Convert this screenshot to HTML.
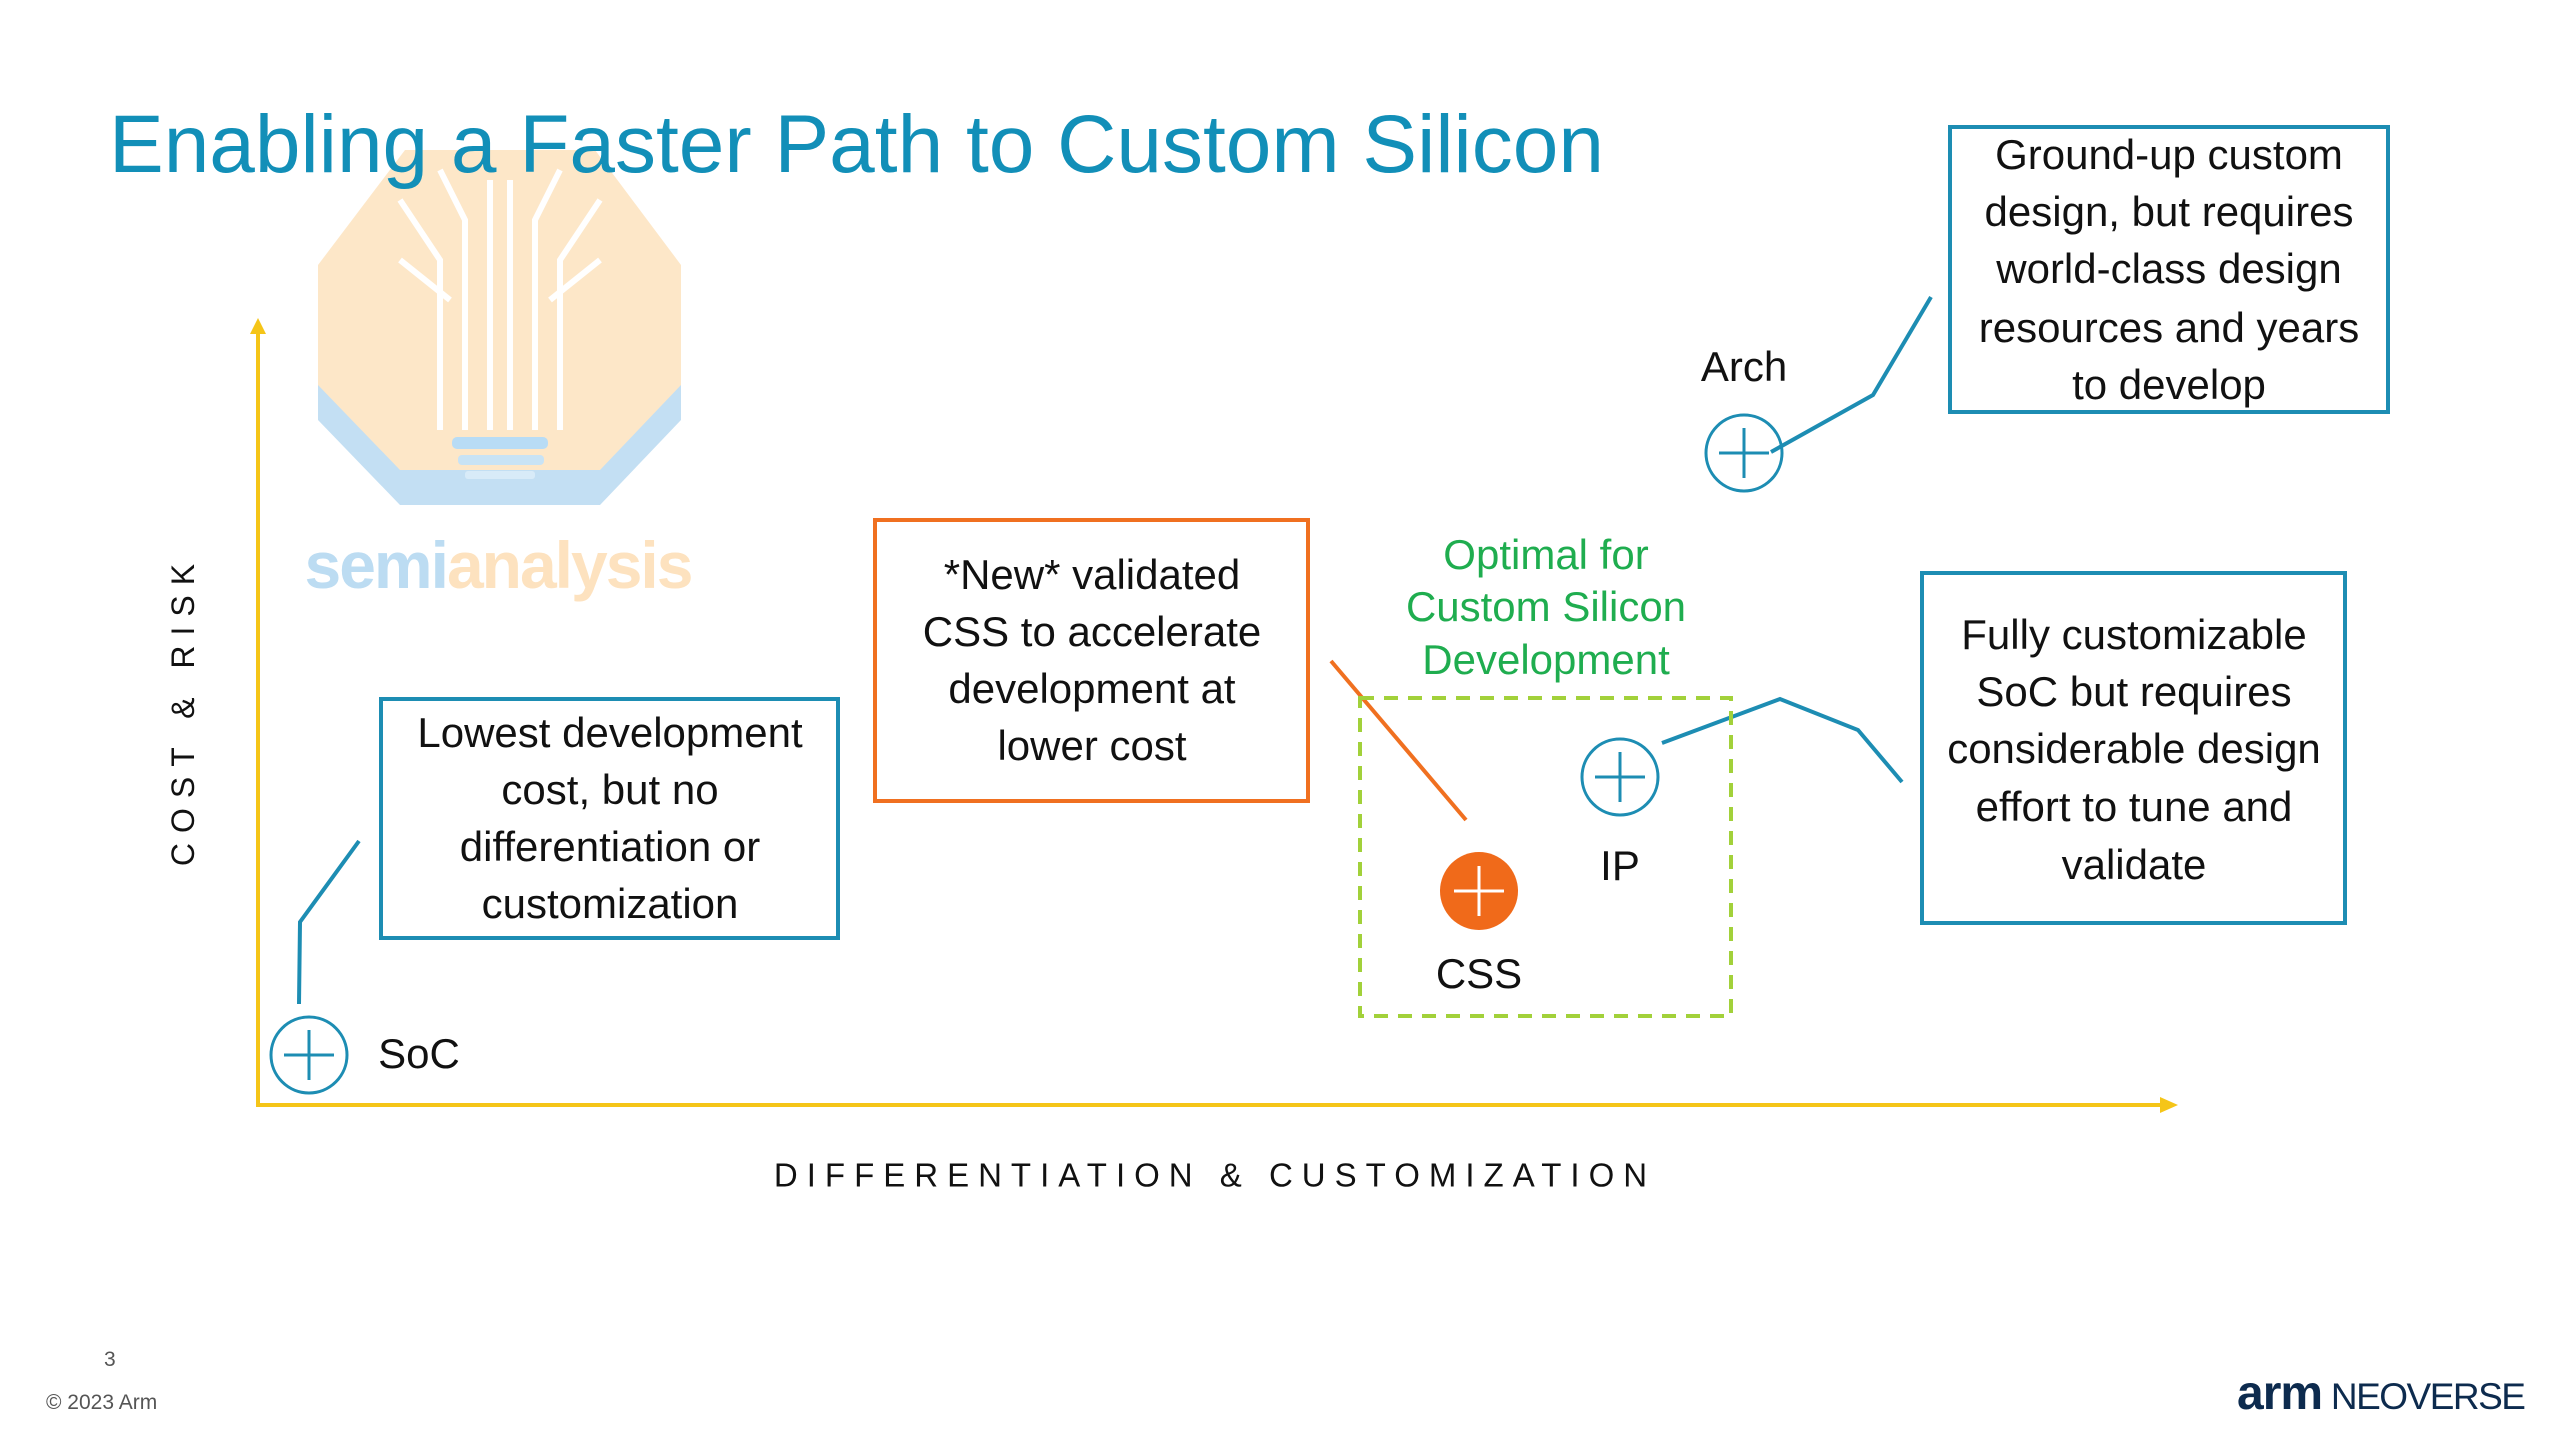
<!DOCTYPE html>
<html><head><meta charset="utf-8"><style>
html,body{margin:0;padding:0;background:#fff}
body{width:2560px;height:1440px;position:relative;overflow:hidden;font-family:"Liberation Sans",sans-serif}
.t{position:absolute;white-space:nowrap;transform:translate(-50%,-50%);color:#111;font-size:42px;line-height:1}
.box{position:absolute;box-sizing:border-box;border:4px solid #1d8db3}
</style></head><body>
<svg width="2560" height="1440" style="position:absolute;left:0;top:0">
  <polygon points="400,185 600,185 681,310 681,420 600,505 400,505 318,420 318,310" fill="#bcdcf2" opacity="0.9"/>
  <polygon points="405,150 595,150 681,265 681,385 600,470 400,470 318,385 318,265" fill="#fde7c8"/>
  <g stroke="#fff" stroke-width="6" fill="none">
    <path d="M440,430 V260 L400,200"/><path d="M465,430 V220 L440,170"/><path d="M490,430 V180"/><path d="M510,430 V180"/><path d="M535,430 V220 L560,170"/><path d="M560,430 V260 L600,200"/>
    <path d="M450,300 L400,260"/><path d="M550,300 L600,260"/>
  </g>
  <rect x="452" y="437" width="96" height="12" rx="5" fill="#b8dcf5"/>
  <rect x="458" y="455" width="86" height="10" rx="4" fill="#c8e3f5"/>
  <rect x="465" y="471" width="70" height="8" rx="3" fill="#d8ebf8"/>
  <line x1="258" y1="1105" x2="258" y2="330" stroke="#f5c518" stroke-width="4"/>
  <polygon points="250,334 266,334 258,318" fill="#f5c518"/>
  <line x1="256" y1="1105" x2="2165" y2="1105" stroke="#f5c518" stroke-width="4"/>
  <polygon points="2160,1097 2160,1113 2178,1105" fill="#f5c518"/>
  <polyline points="299,1004 300,922 359,841" fill="none" stroke="#1d8db3" stroke-width="4"/>
  <line x1="1331" y1="661" x2="1466" y2="820" stroke="#f07020" stroke-width="4"/>
  <polyline points="1662,743 1780,699 1858,730 1902,782" fill="none" stroke="#1d8db3" stroke-width="4"/>
  <polyline points="1771,452 1873,395 1931,297" fill="none" stroke="#1d8db3" stroke-width="4"/>
  <rect x="1360" y="698" width="371" height="318" fill="none" stroke="#a2d13a" stroke-width="4" stroke-dasharray="14,10"/>
  <g stroke="#1d8db3" stroke-width="3" fill="none">
    <circle cx="309" cy="1055" r="38"/><path d="M309,1030 V1080 M284,1055 H334"/>
    <circle cx="1620" cy="777" r="38"/><path d="M1620,752 V802 M1595,777 H1645"/>
    <circle cx="1744" cy="453" r="38"/><path d="M1744,428 V478 M1719,453 H1769"/>
  </g>
  <circle cx="1479" cy="891" r="39" fill="#f06a1a"/>
  <path d="M1479,866 V916 M1454,891 H1504" stroke="#fff" stroke-width="3"/>
</svg>
<div class="t" style="left:498px;top:565px;font-size:66px;font-weight:bold;color:#bcdcf2;letter-spacing:-2px">semi<span style="color:#fde2bf">analysis</span></div>
<div style="position:absolute;left:109px;top:104px;font-size:82px;color:#128fb8;white-space:nowrap;line-height:1">Enabling a Faster Path to Custom Silicon</div>

<div class="box" style="left:379px;top:697px;width:461px;height:243px"></div>
<div class="t" style="left:610px;top:733px">Lowest development</div>
<div class="t" style="left:610px;top:790px">cost, but no</div>
<div class="t" style="left:610px;top:847px">differentiation or</div>
<div class="t" style="left:610px;top:904px">customization</div>

<div class="box" style="left:873px;top:518px;width:437px;height:285px;border-color:#f07020"></div>
<div class="t" style="left:1092px;top:575px">*New* validated</div>
<div class="t" style="left:1092px;top:632px">CSS to accelerate</div>
<div class="t" style="left:1092px;top:689px">development at</div>
<div class="t" style="left:1092px;top:746px">lower cost</div>

<div class="t" style="left:1546px;top:555px;color:#1fad4f">Optimal for</div>
<div class="t" style="left:1546px;top:607px;color:#1fad4f">Custom Silicon</div>
<div class="t" style="left:1546px;top:660px;color:#1fad4f">Development</div>

<div class="box" style="left:1920px;top:571px;width:427px;height:354px"></div>
<div class="t" style="left:2134px;top:635px">Fully customizable</div>
<div class="t" style="left:2134px;top:692px">SoC but requires</div>
<div class="t" style="left:2134px;top:749px">considerable design</div>
<div class="t" style="left:2134px;top:807px">effort to tune and</div>
<div class="t" style="left:2134px;top:865px">validate</div>

<div class="box" style="left:1948px;top:125px;width:442px;height:289px"></div>
<div class="t" style="left:2169px;top:155px">Ground-up custom</div>
<div class="t" style="left:2169px;top:212px">design, but requires</div>
<div class="t" style="left:2169px;top:269px">world-class design</div>
<div class="t" style="left:2169px;top:328px">resources and years</div>
<div class="t" style="left:2169px;top:385px">to develop</div>

<div class="t" style="left:419px;top:1054px">SoC</div>
<div class="t" style="left:1479px;top:974px">CSS</div>
<div class="t" style="left:1620px;top:866px">IP</div>
<div class="t" style="left:1744px;top:367px">Arch</div>

<div class="t" style="left:183px;top:710px;transform:translate(-50%,-50%) rotate(-90deg);font-size:32px;letter-spacing:10px">COST &amp; RISK</div>
<div class="t" style="left:1215px;top:1175px;font-size:33px;letter-spacing:9px">DIFFERENTIATION &amp; CUSTOMIZATION</div>

<div style="position:absolute;left:104px;top:1348px;font-size:21px;color:#555">3</div>
<div style="position:absolute;left:46px;top:1391px;font-size:21px;color:#555">© 2023 Arm</div>
<div style="position:absolute;left:2237px;top:1370px;white-space:nowrap;color:#0d2b4e;line-height:1"><span style="font-size:48px;font-weight:bold;letter-spacing:-1px">arm</span><span style="font-size:37px;letter-spacing:-1.5px"> NEOVERSE</span></div>
</body></html>
